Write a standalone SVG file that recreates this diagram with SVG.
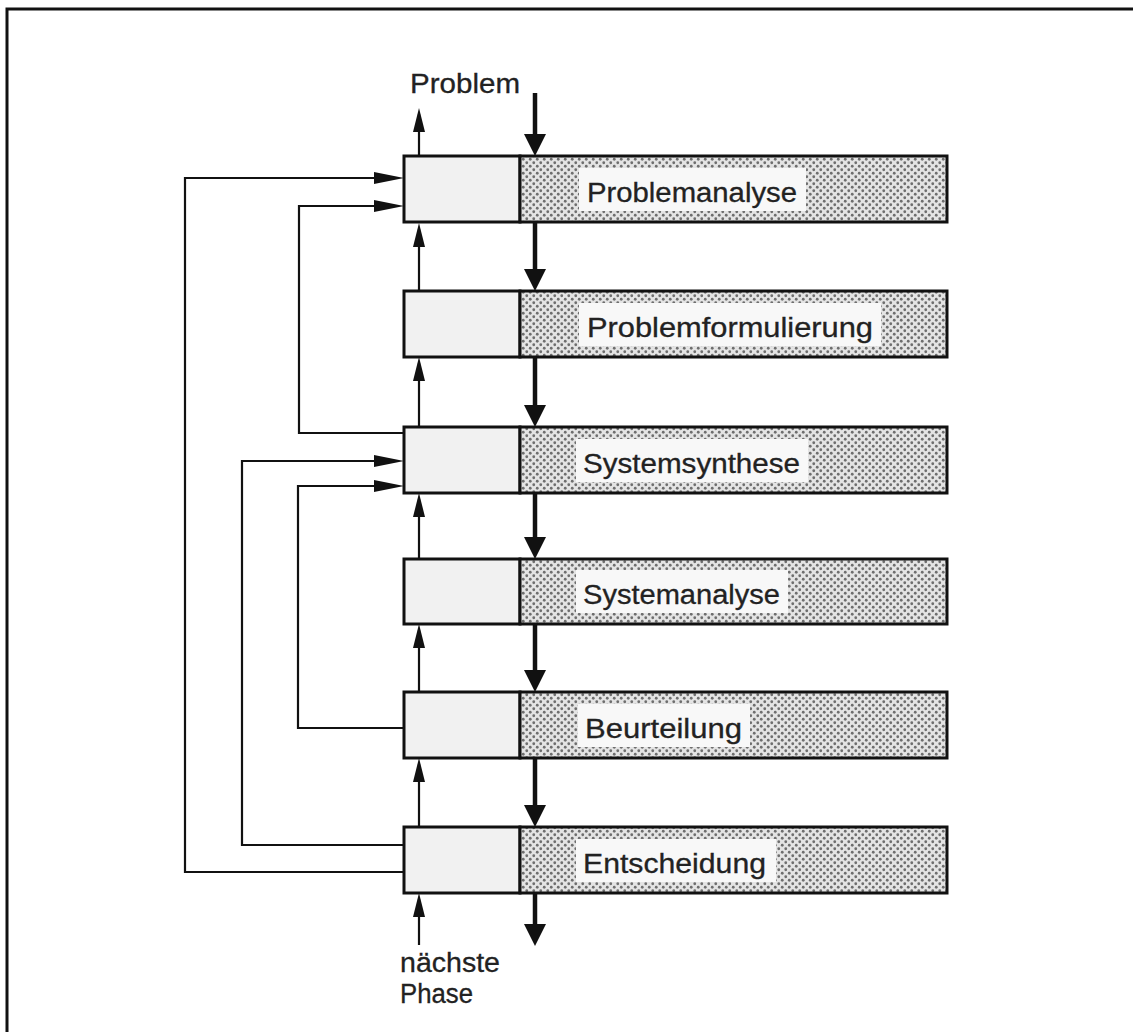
<svg xmlns="http://www.w3.org/2000/svg" width="1133" height="1032" viewBox="0 0 1133 1032">
  <defs>
    <pattern id="dots" width="7" height="7" patternUnits="userSpaceOnUse">
      <rect width="7" height="7" fill="#e4e4e4"/>
      <circle cx="1.75" cy="1.75" r="1.4" fill="#6e6e6e"/>
      <circle cx="5.25" cy="5.25" r="1.4" fill="#6e6e6e"/>
    </pattern>
    <marker id="thick" markerUnits="userSpaceOnUse" markerWidth="24" markerHeight="24" viewBox="0 0 24 24" refX="16" refY="11" orient="auto">
      <path d="M0,0 L22,11 L0,22 Z" fill="#111"/>
    </marker>
    <marker id="thin" markerUnits="userSpaceOnUse" markerWidth="28" markerHeight="14" viewBox="0 0 28 14" refX="18" refY="6" orient="auto">
      <path d="M0,0 L24,6 L0,12 Z" fill="#111"/>
    </marker>
    <marker id="feed" markerUnits="userSpaceOnUse" markerWidth="34" markerHeight="14" viewBox="0 0 34 14" refX="24" refY="6" orient="auto">
      <path d="M0,0 L30,6 L0,12 Z" fill="#111"/>
    </marker>
  </defs>
  <style>
    .frame { fill: none; stroke: #111; stroke-width: 3; }
    .left { fill: #f1f1f1; stroke: #111; stroke-width: 3; }
    .right { fill: url(#dots); stroke: #111; stroke-width: 3; }
    .lbg { fill: #f8f8f8; }
    .label { font-family: "Liberation Sans", Arial, sans-serif; font-size: 27px; fill: #222; stroke: #222; stroke-width: 0.3; }
    .flow { fill: none; stroke: #111; stroke-width: 4.5; marker-end: url(#thick); }
    .back { fill: none; stroke: #111; stroke-width: 2.2; marker-end: url(#thin); }
    .loop { fill: none; stroke: #111; stroke-width: 2.2; marker-end: url(#feed); }
  </style>

  <rect width="1133" height="1032" fill="#ffffff"/>
  <path class="frame" d="M7,1040 V9 H1140"/>

  <!-- phases -->
  <g id="problemanalyse">
    <rect class="left" x="404" y="156" width="116" height="66"/>
    <rect class="right" x="520" y="156" width="427" height="66"/>
    <rect class="lbg" x="579" y="168" width="227" height="43"/>
    <text class="label" x="587" y="202" textLength="210" lengthAdjust="spacingAndGlyphs">Problemanalyse</text>
  </g>
  <g id="problemformulierung">
    <rect class="left" x="404" y="291" width="116" height="66"/>
    <rect class="right" x="520" y="291" width="427" height="66"/>
    <rect class="lbg" x="579" y="303" width="302" height="43"/>
    <text class="label" x="587" y="337" textLength="286" lengthAdjust="spacingAndGlyphs">Problemformulierung</text>
  </g>
  <g id="systemsynthese">
    <rect class="left" x="404" y="427" width="116" height="66"/>
    <rect class="right" x="520" y="427" width="427" height="66"/>
    <rect class="lbg" x="576" y="439" width="232" height="43"/>
    <text class="label" x="583" y="473" textLength="217" lengthAdjust="spacingAndGlyphs">Systemsynthese</text>
  </g>
  <g id="systemanalyse">
    <rect class="left" x="404" y="559" width="116" height="65"/>
    <rect class="right" x="520" y="559" width="427" height="65"/>
    <rect class="lbg" x="576" y="570" width="212" height="43"/>
    <text class="label" x="583" y="604" textLength="197" lengthAdjust="spacingAndGlyphs">Systemanalyse</text>
  </g>
  <g id="beurteilung">
    <rect class="left" x="404" y="692" width="116" height="66"/>
    <rect class="right" x="520" y="692" width="427" height="66"/>
    <rect class="lbg" x="578" y="704" width="172" height="43"/>
    <text class="label" x="585" y="738" textLength="157" lengthAdjust="spacingAndGlyphs">Beurteilung</text>
  </g>
  <g id="entscheidung">
    <rect class="left" x="404" y="827" width="116" height="66"/>
    <rect class="right" x="520" y="827" width="427" height="66"/>
    <rect class="lbg" x="576" y="839" width="200" height="43"/>
    <text class="label" x="583" y="873" textLength="183" lengthAdjust="spacingAndGlyphs">Entscheidung</text>
  </g>

  <!-- terminal labels -->
  <g id="problem">
    <text class="label" x="410" y="93" textLength="110" lengthAdjust="spacingAndGlyphs">Problem</text>
  </g>
  <g id="naechste-phase">
    <text class="label" x="400" y="972" textLength="100" lengthAdjust="spacingAndGlyphs">nächste</text>
    <text class="label" x="400" y="1003" textLength="73" lengthAdjust="spacingAndGlyphs">Phase</text>
  </g>

  <g id="connectors">
    <!-- main downward flow -->
    <path class="flow" d="M535,93 V150"/>
    <path class="flow" d="M535,222 V285"/>
    <path class="flow" d="M535,357 V421"/>
    <path class="flow" d="M535,493 V553"/>
    <path class="flow" d="M535,624 V686"/>
    <path class="flow" d="M535,758 V821"/>
    <path class="flow" d="M535,893 V940"/>

    <!-- upward return path -->
    <path class="back" d="M419,156 V114"/>
    <path class="back" d="M419,291 V229"/>
    <path class="back" d="M419,427 V363"/>
    <path class="back" d="M419,559 V499"/>
    <path class="back" d="M419,692 V630"/>
    <path class="back" d="M419,827 V764"/>
    <path class="back" d="M419,945 V899"/>

    <!-- feedback loops -->
    <path class="loop" d="M404,872 H185 V178 H398"/>
    <path class="loop" d="M404,433 H299 V206 H398"/>
    <path class="loop" d="M404,845 H242 V461 H398"/>
    <path class="loop" d="M404,728 H298 V486 H398"/>
  </g>
</svg>
